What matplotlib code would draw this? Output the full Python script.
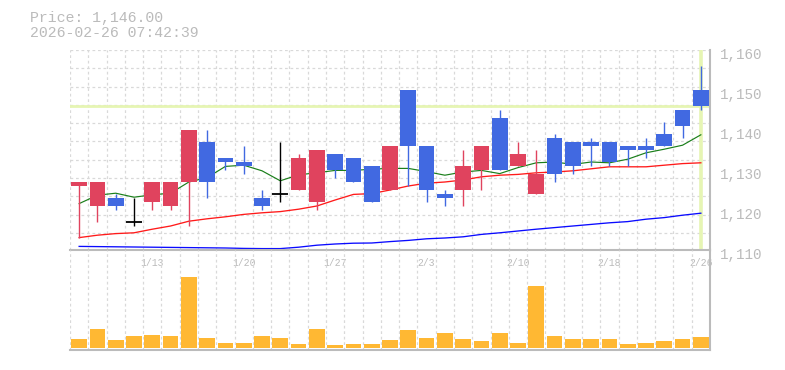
import matplotlib
matplotlib.use("Agg")
import matplotlib.pyplot as plt
import matplotlib.transforms as mtransforms
import numpy as np

# Daily OHLC (JPY)
opens  = [1126, 1121, 1123, 1117, 1122, 1121, 1127, 1137, 1133, 1132, 1123, 1124,
          1125, 1122, 1134, 1133, 1131, 1125, 1150, 1136, 1124, 1125, 1130, 1143,
          1131, 1124, 1138, 1137, 1137, 1137, 1136, 1136, 1139, 1145, 1150]
highs  = [1127, 1127, 1124, 1123, 1127, 1127, 1140, 1140, 1133, 1136, 1125, 1137,
          1134, 1135, 1134, 1133, 1131, 1136, 1150, 1136, 1125, 1135, 1136, 1145,
          1137, 1135, 1139, 1137, 1138, 1137, 1136, 1138, 1142, 1145, 1156]
lows   = [1113, 1117, 1120, 1116, 1120, 1120, 1116, 1123, 1130, 1129, 1120, 1122,
          1125, 1120, 1128, 1127, 1122, 1125, 1126, 1122, 1121, 1121, 1125, 1130,
          1131, 1124, 1127, 1129, 1131, 1131, 1131, 1133, 1136, 1138, 1145]
closes = [1127, 1127, 1121, 1117, 1127, 1127, 1140, 1127, 1132, 1131, 1121, 1124,
          1133, 1135, 1130, 1127, 1122, 1136, 1136, 1125, 1123, 1131, 1136, 1130,
          1134, 1129, 1129, 1131, 1136, 1132, 1135, 1135, 1136, 1141, 1146]

# Moving averages (short / medium / long)
ma_short = [1121.6, 1123.7, 1124.2, 1123.2, 1123.8, 1124.2, 1127.0, 1128.1, 1130.9,
            1131.2, 1129.8, 1127.3, 1128.8, 1129.3, 1129.9, 1129.9, 1130.2, 1130.4,
            1130.4, 1129.6, 1128.7, 1129.5, 1129.9, 1129.1, 1130.6, 1131.8, 1132.0,
            1131.4, 1132.0, 1131.8, 1132.7, 1134.3, 1135.2, 1136.2, 1138.8]
ma_mid   = [1113.1, 1113.7, 1114.1, 1114.3, 1115.2, 1116.0, 1117.2, 1117.8, 1118.3,
            1118.9, 1119.3, 1119.6, 1120.2, 1121.0, 1122.5, 1123.9, 1124.1, 1125.0,
            1126.0, 1126.7, 1127.0, 1127.5, 1128.3, 1128.7, 1128.9, 1129.3, 1129.5,
            1129.8, 1130.3, 1130.8, 1130.8, 1130.8, 1131.2, 1131.6, 1131.8]
ma_long  = [1110.9, 1110.85, 1110.8, 1110.75, 1110.7, 1110.65, 1110.6, 1110.55, 1110.5,
            1110.4, 1110.35, 1110.35, 1110.7, 1111.2, 1111.5, 1111.7, 1111.75, 1112.1,
            1112.4, 1112.8, 1113.0, 1113.3, 1113.9, 1114.3, 1114.75, 1115.2, 1115.6,
            1116.0, 1116.4, 1116.8, 1117.1, 1117.7, 1118.1, 1118.7, 1119.2]

# Daily volume (shares)
volumes = [9000, 19000, 8000, 12000, 13000, 12000, 71300, 10000, 5000, 5000, 12000,
           10000, 4000, 19000, 3000, 4000, 4000, 8000, 18000, 10000, 15000, 9000,
           7000, 15000, 5000, 62000, 12000, 9000, 9000, 9000, 4000, 5000, 7000,
           9000, 11000]

date_ticks = [4, 9, 14, 19, 24, 29, 34]
date_labels = ["1/13", "1/20", "1/27", "2/3", "2/10", "2/18", "2/26"]
price_ticks = [1110, 1120, 1130, 1140, 1150, 1160]
price_labels = ["1,110", "1,120", "1,130", "1,140", "1,150", "1,160"]
last_price = 1146.00
stamp = "2026-02-26 07:42:39"

UP = "#e0435e"
DOWN = "#4169e1"
GRID = "#d9d9d9"
TEXT = "#bbbbbb"
MARK = "#e6f5b3"
VOL = "#ffb833"
MONO = ["Liberation Mono", "DejaVu Sans Mono"]

W, H = 785, 370
fig = plt.figure(figsize=(W / 100, H / 100), dpi=100)
fig.patch.set_facecolor("white")

L, R = 70, 710
ax = fig.add_axes([L / W, 1 - 250 / H, (R - L) / W, 200 / H])
axv = fig.add_axes([L / W, 1 - 350 / H, (R - L) / W, 100 / H])
axv.patch.set_alpha(0)

n = len(closes)
x = np.arange(n)
ymin, ymax = 1110, 1160

for a in (ax, axv):
    a.set_xlim(-0.5, n - 0.5)
    for s in ("top", "left"):
        a.spines[s].set_visible(False)
    for s in ("bottom", "right"):
        a.spines[s].set_color("#bbbbbb")
        a.spines[s].set_linewidth(1.5)
    # vertical dashed grid at day boundaries
    for k in range(n):
        a.axvline(k - 0.5, color=GRID, lw=0.9, ls=(0, (2.2, 2.2)), zorder=0)

ax.set_ylim(ymin, ymax)

# square grid: horizontal spacing equals one day width in pixels
cell_px = (R - L) / n
cell_val = cell_px * (ymax - ymin) / 200
k = 0
while ymax - k * cell_val > ymin + 0.5:
    ax.axhline(ymax - k * cell_val, color=GRID, lw=0.9, ls=(0, (2.2, 2.2)), zorder=0)
    k += 1

# last price marker lines
ax.axhline(last_price, color=MARK, lw=2.0, zorder=1)
ax.axvline(n - 1, color=MARK, lw=2.6, zorder=1)

# moving averages
ax.plot(x, ma_short, color="#1a7f1a", lw=0.85, zorder=2)
ax.plot(x, ma_mid, color="#ff1a1a", lw=0.95, zorder=2)
ax.plot(x, ma_long, color="#0a0aff", lw=0.95, zorder=2)

# candles
bw = 0.86
for i in range(n):
    o, h, l, c = opens[i], highs[i], lows[i], closes[i]
    if c > o:
        col = UP
    elif c < o:
        col = DOWN
    else:
        col = "black"
    ax.vlines(i, l, h, color=col, lw=1.0, zorder=3)
    if c == o:
        ax.hlines(c, i - bw / 2, i + bw / 2, color=col, lw=1.3, zorder=4)
    else:
        ax.bar(i, abs(c - o), bottom=min(o, c), width=bw, color=col, lw=0, zorder=4)

ax.set_yticks(price_ticks)
ax.set_yticklabels(price_labels)
ax.yaxis.tick_right()
ax.tick_params(axis="y", length=0, pad=7, labelcolor=TEXT, labelsize=10.3)
shift = mtransforms.ScaledTranslation(0, -3 / 100, fig.dpi_scale_trans)
for lab in ax.get_yticklabels():
    lab.set_fontfamily(MONO)
    lab.set_transform(lab.get_transform() + shift)

ax.set_xticks(date_ticks)
ax.set_xticklabels(date_labels)
ax.tick_params(axis="x", length=0, pad=5.6, labelcolor=TEXT, labelsize=7)
for lab in ax.get_xticklabels():
    lab.set_fontfamily(MONO)

# volume panel
vmax = max(volumes)
axv.bar(x, volumes, width=bw, color=VOL, lw=0, zorder=2)
axv.set_ylim(-vmax * 2 / 71.3, vmax * 98 / 71.3)
axv.set_xticks([])
axv.set_yticks([])

fig.text(30 / W, 1 - 18 / H, f"Price: {last_price:,.2f}", color=TEXT,
         fontsize=10.7, family=MONO, va="center", ha="left")
fig.text(30 / W, 1 - 33 / H, stamp, color=TEXT,
         fontsize=10.7, family=MONO, va="center", ha="left")

fig.savefig("out.png", dpi=100, facecolor="white")
